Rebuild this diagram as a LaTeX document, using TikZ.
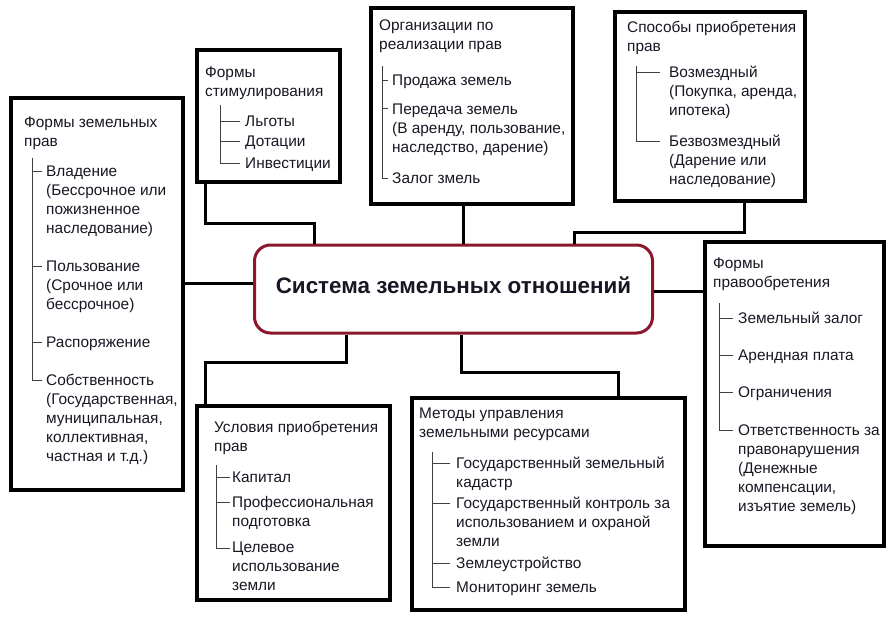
\documentclass[tikz,border=0pt]{standalone}
\usepackage{fontspec}
\setmainfont{Liberation Sans}
\definecolor{frame}{RGB}{140,22,45}
\definecolor{ink}{RGB}{25,22,35}

\begin{document}
\begin{tikzpicture}[x=1pt,y=-1pt,
  box/.style={draw, line width=3.5pt, anchor=north west, inner sep=0pt},
  conn/.style={line width=3pt},
  tree/.style={line width=0.9pt, black!75},
  txt/.style={anchor=base west, inner sep=0pt, align=left, text=ink,
    font=\fontsize{15.4}{19}\selectfont}]
\useasboundingbox (0,0) rectangle (887,619);

% boxes
\node[box, minimum width=172pt, minimum height=392pt] (prava) at (9,96) {};
\node[box, minimum width=143pt, minimum height=132pt] (stim) at (195,48) {};
\node[box, minimum width=202pt, minimum height=196pt] (org) at (369,6) {};
\node[box, minimum width=190pt, minimum height=189pt] (sposob) at (613,10) {};
\node[box, minimum width=179pt, minimum height=304pt] (pravoobr) at (703,240) {};
\node[box, minimum width=193pt, minimum height=194pt] (uslov) at (195,404) {};
\node[box, minimum width=273pt, minimum height=212pt] (metody) at (410,396) {};
\node[draw=frame, line width=3pt, rounded corners=16pt, fill=white,
  minimum width=398pt, minimum height=88pt, text=ink, text depth=8pt,
  font=\fontsize{22.4}{26}\selectfont\bfseries] (cen) at (453.5,289) {Система земельных отношений};

% connectors
\draw[conn] ([yshift=6pt]cen.west) -- ([yshift=6pt]cen.west -| prava.east);
\draw[conn] ([xshift=10pt]stim.south west) -- ++(0,40) -| ([xshift=-139pt]cen.north);
\draw[conn] ([xshift=-8pt]org.south) -- ([xshift=-8pt]org.south |- cen.north);
\draw[conn] ([xshift=35pt]sposob.south) -- ++(0,30) -| ([xshift=121pt]cen.north);
\draw[conn] ([yshift=-2pt]cen.east) -- ([yshift=-2pt]cen.east -| pravoobr.west);
\draw[conn] ([xshift=-107pt]cen.south) -- ++(0,28) -| ([xshift=10pt]uslov.north west);
\draw[conn] ([xshift=8pt]cen.south) -- ++(0,38) -| ([xshift=208pt]metody.north west);

% Формы земельных прав (text nodes sit on their last line)
\node[txt] (pravaT) at (24,146) {Формы земельных\\прав};
\draw[tree] (32,158) -- (32,380) -- (42,380);
\draw[tree] (32,171) -- (42,171);
\draw[tree] (32,266) -- (42,266);
\draw[tree] (32,342) -- (42,342);
\node[txt] (pravaA) at (46,233) {Владение\\(Бессрочное или\\пожизненное\\наследование)};
\node[txt] (pravaB) at (46,309) {Пользование\\(Срочное или\\бессрочное)};
\node[txt] (pravaC) at (46,347) {Распоряжение};
\node[txt] (pravaD) at (46,461) {Собственность\\(Государственная,\\муниципальная,\\коллективная,\\частная и т.д.)};

% Формы стимулирования
\node[txt] (stimT) at (205,96) {Формы\\стимулирования};
\draw[tree] (220,105) -- (220,163) -- (240,163);
\draw[tree] (220,121) -- (240,121);
\draw[tree] (220,141) -- (240,141);
\node[txt] (stimA) at (245,126) {Льготы};
\node[txt] (stimB) at (245,146) {Дотации};
\node[txt] (stimC) at (245,168) {Инвестиции};

% Организации по реализации прав
\node[txt] (orgT) at (379,49) {Организации по\\реализации прав};
\draw[tree] (382,66) -- (382,178) -- (388,178);
\draw[tree] (382,80) -- (388,80);
\draw[tree] (382,108) -- (388,108);
\node[txt] (orgA) at (392,85) {Продажа земель};
\node[txt] (orgB) at (392,152) {Передача земель\\(В аренду, пользование,\\наследство, дарение)};
\node[txt] (orgC) at (392,183) {Залог змель};

% Способы приобретения прав
\node[txt] (sposobT) at (627,51) {Способы приобретения\\прав};
\draw[tree] (636,66) -- (636,141) -- (660,141);
\draw[tree] (636,72) -- (660,72);
\node[txt] (sposobA) at (669,115) {Возмездный\\(Покупка, аренда,\\ипотека)};
\node[txt] (sposobB) at (669,184) {Безвозмездный\\(Дарение или\\наследование)};

% Формы правообретения
\node[txt] (pravoobrT) at (713,287) {Формы\\правообретения};
\draw[tree] (719,303) -- (719,430) -- (733,430);
\draw[tree] (719,318) -- (733,318);
\draw[tree] (719,355) -- (733,355);
\draw[tree] (719,392) -- (733,392);
\node[txt] (pravoobrA) at (738,323) {Земельный залог};
\node[txt] (pravoobrB) at (738,360) {Арендная плата};
\node[txt] (pravoobrC) at (738,397) {Ограничения};
\node[txt] (pravoobrD) at (738,511) {Ответственность за\\правонарушения\\(Денежные\\компенсации,\\изъятие земель)};

% Условия приобретения прав
\node[txt] (uslovT) at (214,451) {Условия приобретения\\прав};
\draw[tree] (216,465) -- (216,548) -- (230,548);
\draw[tree] (216,477) -- (230,477);
\draw[tree] (216,502) -- (230,502);
\node[txt] (uslovA) at (232,482) {Капитал};
\node[txt] (uslovB) at (232,526) {Профессиональная\\подготовка};
\node[txt] (uslovC) at (232,590) {Целевое\\использование\\земли};

% Методы управления земельными ресурсами
\node[txt] (metodyT) at (419,437) {Методы управления\\земельными ресурсами};
\draw[tree] (432,452) -- (432,587) -- (450,587);
\draw[tree] (432,463) -- (450,463);
\draw[tree] (432,503) -- (450,503);
\draw[tree] (432,563) -- (450,563);
\node[txt] (metodyA) at (456,487) {Государственный земельный\\кадастр};
\node[txt] (metodyB) at (456,546) {Государственный контроль за\\использованием и охраной\\земли};
\node[txt] (metodyC) at (456,568) {Землеустройство};
\node[txt] (metodyD) at (456,592) {Мониторинг земель};
\end{tikzpicture}
\end{document}
